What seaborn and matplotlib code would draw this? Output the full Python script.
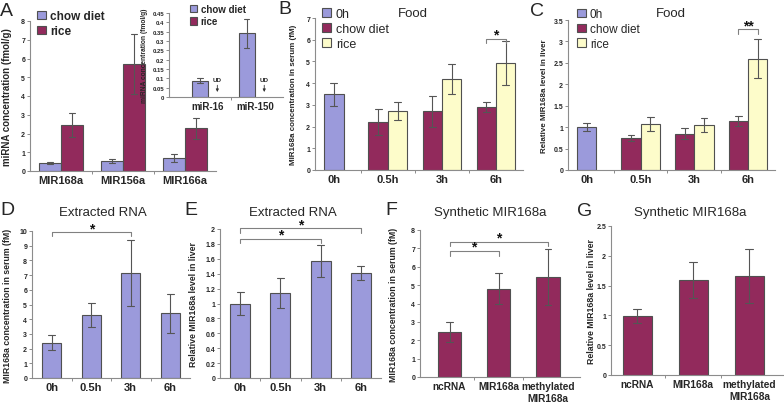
import numpy as np
import pandas as pd
import matplotlib
matplotlib.use('Agg')
import matplotlib.pyplot as plt
import matplotlib.patches as mpatches
from matplotlib.ticker import MultipleLocator, FuncFormatter
import seaborn as sns

sns.set_theme(style='ticks')
plt.rcParams['font.family'] = ['Liberation Sans', 'DejaVu Sans']

W, H = 784, 406

LAV = '#9b9adb'
PLUM = '#922a5c'
CREAM = '#fdfcca'
EDGE = '#505050'
AXC = '#8c8c8c'
ERR = '#555555'

# ---------------- data ----------------
# A: plant miRNAs in rice / chow
a_genes = ['MIR168a', 'MIR156a', 'MIR166a']
a_chow = [0.43, 0.53, 0.68]
a_chow_err = [0.06, 0.12, 0.22]
a_rice = [2.47, 5.72, 2.27]
a_rice_err = [0.63, 1.60, 0.55]
# A inset: animal miRNAs (undetected in rice)
ins_genes = ['miR-16', 'miR-150']
ins_chow = [0.087, 0.341]
ins_chow_err = [0.013, 0.077]
# B / C: food time course
times = ['0h', '0.5h', '3h', '6h']
b_base, b_base_err = 3.48, 0.52
b_chow = [2.22, 2.70, 2.89]
b_chow_err = [0.60, 0.72, 0.22]
b_rice = [2.70, 4.19, 4.93]
b_rice_err = [0.42, 0.68, 1.00]
c_base, c_base_err = 1.00, 0.10
c_chow = [0.74, 0.85, 1.15]
c_chow_err = [0.07, 0.13, 0.12]
c_rice = [1.08, 1.05, 2.60]
c_rice_err = [0.16, 0.17, 0.46]
# D / E: extracted RNA
d_vals = [2.41, 4.28, 7.13, 4.41]
d_err = [0.52, 0.80, 2.25, 1.33]
e_vals = [1.00, 1.14, 1.57, 1.41]
e_err = [0.16, 0.20, 0.21, 0.09]
# F / G: synthetic MIR168a
syn_groups = ['ncRNA', 'MIR168a', 'methylated\nMIR168a']
f_vals = [2.45, 4.81, 5.44]
f_err = [0.54, 0.84, 1.50]
g_vals = [0.99, 1.59, 1.66]
g_err = [0.11, 0.30, 0.46]


def spread(cats, vals, errs, group=''):
    # two points per bar: mean gives the value, full range gives +/- error
    rows = []
    for c, v, e in zip(cats, vals, errs):
        rows += [(c, v - e, group), (c, v + e, group)]
    return pd.DataFrame(rows, columns=['x', 'y', 'g'])


BAR_KW = dict(estimator='mean', errorbar=('pi', 100), saturation=1,
              edgecolor=EDGE, linewidth=0.8,
              err_kws={'color': ERR, 'linewidth': 0.8})


def add_axes(fig, box):
    l, t, r, b = box
    return fig.add_axes([l / W, 1 - b / H, (r - l) / W, (b - t) / H])


def style_axes(ax, box, ymax, step, xlim, ylabel, ylab_x, ylab_size=6.3,
               ytick_size=5, xtick_size=8):
    ax.set_ylim(0, ymax)
    ax.set_xlim(*xlim)
    ax.yaxis.set_major_locator(MultipleLocator(step))
    ax.yaxis.set_major_formatter(FuncFormatter(lambda v, p: '%g' % round(v, 3)))
    n = len(ax.get_xticks())
    ax.set_xticks(np.arange(0.5, n - 1, 1), minor=True)
    ax.tick_params(axis='x', which='major', length=0, pad=3, labelsize=xtick_size)
    ax.tick_params(axis='x', which='minor', length=2.5, width=0.7, color=AXC, direction='out')
    ax.tick_params(axis='y', length=2, width=0.7, color=AXC, pad=1.5, labelsize=ytick_size)
    for lab in ax.get_xticklabels() + ax.get_yticklabels():
        lab.set_fontweight('bold')
    sns.despine(ax=ax)
    for s in ['left', 'bottom']:
        ax.spines[s].set_color(AXC)
        ax.spines[s].set_linewidth(0.8)
    ax.set_xlabel('')
    ax.set_ylabel(ylabel, fontsize=ylab_size, fontweight='bold')
    l, t, r, b = box
    ax.yaxis.set_label_coords((ylab_x - l) / (r - l), 0.5)


def bracket(ax, x1, x2, y, h, text):
    ax.plot([x1, x1, x2, x2], [y - h, y, y, y - h], color='#808080', lw=0.8, clip_on=False)
    ax.text((x1 + x2) / 2, y, text, ha='center', va='baseline', fontsize=10,
            fontweight='bold', color='#111111', clip_on=False)


def patch(color, label):
    return mpatches.Patch(facecolor=color, edgecolor=EDGE, linewidth=0.8, label=label)


def legend(ax, fig, handles, xpix, ypix, size, weight='normal'):
    ax.legend(handles=handles, loc='upper left', bbox_to_anchor=(xpix / W, 1 - ypix / H),
              bbox_transform=fig.transFigure, frameon=False, borderpad=0, borderaxespad=0,
              prop={'size': size, 'weight': weight}, handlelength=0.75, handleheight=0.75,
              handletextpad=0.35, labelspacing=0.25)


fig = plt.figure(figsize=(W / 100, H / 100), dpi=100)

# ---------------- A ----------------
boxA = (30, 22, 216, 172)
axA = add_axes(fig, boxA)
dfA = pd.concat([spread(a_genes, a_chow, a_chow_err, 'chow diet'),
                 spread(a_genes, a_rice, a_rice_err, 'rice')])
sns.barplot(data=dfA, x='x', y='y', hue='g', order=a_genes, hue_order=['chow diet', 'rice'],
            palette={'chow diet': LAV, 'rice': PLUM}, width=0.71, capsize=0.22,
            dodge=True, legend=False, ax=axA, **BAR_KW)
style_axes(axA, boxA, 8, 1, (-0.5, 2.5), 'miRNA concentration (fmol/g)', 12, ylab_size=7)
legend(axA, fig, [patch(LAV, 'chow diet'), patch(PLUM, 'rice')], 37, 11, 8.5, 'bold')

# A inset
boxI = (169, 14, 283, 98)
axI = add_axes(fig, boxI)
dfI = spread(ins_genes, ins_chow, ins_chow_err, 'chow diet')
sns.barplot(data=dfI, x='x', y='y', hue='g', order=ins_genes, hue_order=['chow diet', 'rice'],
            palette={'chow diet': LAV, 'rice': PLUM}, width=0.68, capsize=0.22,
            dodge=True, legend=False, ax=axI, **BAR_KW)
style_axes(axI, boxI, 0.45, 0.05, (-0.83, 1.6), 'miRNA concentration (fmol/g)', 148,
           ylab_size=4.8, ytick_size=4.3, xtick_size=7)
axI.patch.set_alpha(0)
for i in range(len(ins_genes)):
    # rice: undetected
    axI.text(i + 0.2, 0.094, 'UD', ha='center', va='center', fontsize=4.5, fontweight='bold')
    axI.annotate('', xy=(i + 0.2, 0.012), xytext=(i + 0.2, 0.078),
                 arrowprops=dict(arrowstyle='-|>', color='#333333', lw=0.6,
                                 mutation_scale=4))
legend(axI, fig, [patch(LAV, 'chow diet'), patch(PLUM, 'rice')], 190, 5, 7, 'bold')


def food_panel(box, base, base_err, chow, chow_err, rice, rice_err, ymax, step, ylabel, ylab_x):
    ax = add_axes(fig, box)
    df0 = spread(times[:1], [base], [base_err], '0h')
    sns.barplot(data=df0, x='x', y='y', order=times, color=LAV, width=0.36,
                capsize=0.13, ax=ax, **BAR_KW)
    dfg = pd.concat([spread(times[1:], chow, chow_err, 'chow diet'),
                     spread(times[1:], rice, rice_err, 'rice')])
    sns.barplot(data=dfg, x='x', y='y', hue='g', order=times, hue_order=['chow diet', 'rice'],
                palette={'chow diet': PLUM, 'rice': CREAM}, width=0.72, capsize=0.25,
                dodge=True, legend=False, ax=ax, **BAR_KW)
    style_axes(ax, box, ymax, step, (-0.35, 3.5), ylabel, ylab_x, ylab_size=5.8)
    return ax


# ---------------- B ----------------
boxB = (315, 19, 523, 171)
axB = food_panel(boxB, b_base, b_base_err, b_chow, b_chow_err, b_rice, b_rice_err,
                 7, 1, 'MIR168a concentration in serum (fM)', 297)
legend(axB, fig, [patch(LAV, '0h'), patch(PLUM, 'chow diet'), patch(CREAM, 'rice')],
       322, 9, 9)
bracket(axB, 3 - 0.18, 3 + 0.18, 6.05, 0.22, '*')

# ---------------- C ----------------
boxC = (568, 21, 775, 171)
axC = food_panel(boxC, c_base, c_base_err, c_chow, c_chow_err, c_rice, c_rice_err,
                 3.5, 0.5, 'Relative MIR168a level in liver', 548)
legend(axC, fig, [patch(LAV, '0h'), patch(PLUM, 'chow diet'), patch(CREAM, 'rice')],
       577, 9, 8.5)
bracket(axC, 3 - 0.18, 3 + 0.18, 3.28, 0.1, '**')

# ---------------- D ----------------
boxD = (32, 232, 190, 379)
axD = add_axes(fig, boxD)
sns.barplot(data=spread(times, d_vals, d_err), x='x', y='y', order=times, color=LAV,
            width=0.48, capsize=0.18, ax=axD, **BAR_KW)
style_axes(axD, boxD, 10, 1, (-0.5, 3.5), 'MIR168a concentration in serum (fM)', 12)
bracket(axD, 0, 2, 9.93, 0.3, '*')

# ---------------- E ----------------
boxE = (220, 230, 381, 379)
axE = add_axes(fig, boxE)
sns.barplot(data=spread(times, e_vals, e_err), x='x', y='y', order=times, color=LAV,
            width=0.5, capsize=0.17, ax=axE, **BAR_KW)
style_axes(axE, boxE, 2, 0.2, (-0.5, 3.5), 'Relative MIR168a level in liver', 198)
bracket(axE, 0, 2, 1.87, 0.06, '*')
bracket(axE, 0, 3, 2.01, 0.06, '*')

# ---------------- F ----------------
boxF = (420, 231, 580, 378)
axF = add_axes(fig, boxF)
sns.barplot(data=spread(syn_groups, f_vals, f_err), x='x', y='y', order=syn_groups, color=PLUM,
            width=0.47, capsize=0.14, ax=axF, **BAR_KW)
style_axes(axF, boxF, 8, 1, (-0.6, 2.65), 'MIR168a concentration in serum (fM)', 398,
           xtick_size=7.3)
bracket(axF, 0, 1, 6.86, 0.25, '*')
bracket(axF, 0, 2, 7.37, 0.25, '*')

# ---------------- G ----------------
boxG = (611, 227, 783, 376)
axG = add_axes(fig, boxG)
sns.barplot(data=spread(syn_groups, g_vals, g_err), x='x', y='y', order=syn_groups, color=PLUM,
            width=0.51, capsize=0.14, ax=axG, **BAR_KW)
style_axes(axG, boxG, 2.5, 0.5, (-0.47, 2.6), 'Relative MIR168a level in liver', 596,
           xtick_size=7.3)

# titles and panel letters
for txt, x, y in [('Food', 413, 14), ('Food', 671, 14), ('Extracted RNA', 103, 213),
                  ('Extracted RNA', 293, 213), ('Synthetic MIR168a', 490, 213),
                  ('Synthetic MIR168a', 690, 213)]:
    fig.text(x / W, 1 - y / H, txt, ha='center', va='center', fontsize=9.5)
for txt, x, y in [('A', 0, 11), ('B', 278, 10), ('C', 530, 11), ('D', 0, 211),
                  ('E', 184, 211), ('F', 385, 211), ('G', 577, 212)]:
    fig.text(x / W, 1 - y / H, txt, ha='left', va='center', fontsize=14)

fig.savefig('out.png', dpi=100)
